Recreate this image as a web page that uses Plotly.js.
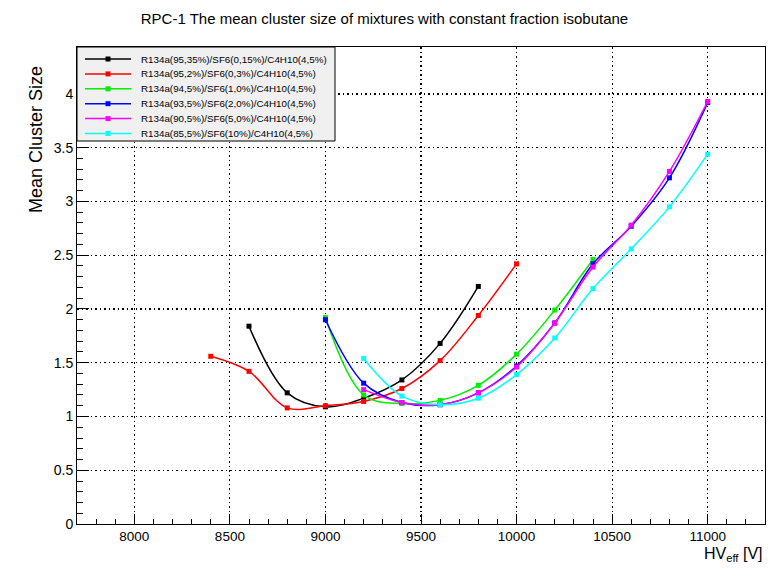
<!DOCTYPE html>
<html><head><meta charset="utf-8">
<script src="https://cdn.plot.ly/plotly-3.0.1.min.js"></script>
<style>body{margin:0;background:#fff}#chart{width:769px;height:574px}</style>
</head><body><div id="chart"></div>
<script>
const seriesNames = [
  "R134a(95,35%)/SF6(0,15%)/C4H10(4,5%)",
  "R134a(95,2%)/SF6(0,3%)/C4H10(4,5%)",
  "R134a(94,5%)/SF6(1,0%)/C4H10(4,5%)",
  "R134a(93,5%)/SF6(2,0%)/C4H10(4,5%)",
  "R134a(90,5%)/SF6(5,0%)/C4H10(4,5%)",
  "R134a(85,5%)/SF6(10%)/C4H10(4,5%)"
];
const seriesColors = ["#000000","#ff0000","#00ee00","#0000ff","#ff00ff","#00ffff"];

const xTickVals = [8000, 8500, 9000, 9500, 10000, 10500, 11000];
const xTickText = ["8000", "8500", "9000", "9500", "10000", "10500", "11000"];
const yTickVals = [0, 0.5, 1, 1.5, 2, 2.5, 3, 3.5, 4];
const yTickText = ["0", "0.5", "1", "1.5", "2", "2.5", "3", "3.5", "4"];

const hvBlack = [8600, 8800, 9000, 9200, 9400, 9600, 9800];
const mcsBlack = [1.84, 1.22, 1.09, 1.17, 1.34, 1.68, 2.21];

const hvRed = [8400, 8600, 8800, 9000, 9200, 9400, 9600, 9800, 10000];
const mcsRed = [1.56, 1.42, 1.08, 1.10, 1.14, 1.26, 1.52, 1.94, 2.42];

const hvGreen = [9000, 9200, 9400, 9600, 9800, 10000, 10200, 10400];
const mcsGreen = [1.92, 1.20, 1.12, 1.15, 1.29, 1.58, 1.99, 2.46];

const hvBlue = [9000, 9200, 9400, 9600, 9800, 10000, 10200, 10400, 10600, 10800, 11000];
const mcsBlue = [1.90, 1.31, 1.13, 1.11, 1.22, 1.47, 1.87, 2.42, 2.77, 3.22, 3.92];

const hvMagenta = [9200, 9400, 9600, 9800, 10000, 10200, 10400, 10600, 10800, 11000];
const mcsMagenta = [1.25, 1.13, 1.11, 1.22, 1.46, 1.87, 2.39, 2.78, 3.28, 3.93];

const hvCyan = [9200, 9400, 9600, 9800, 10000, 10200, 10400, 10600, 10800, 11000];
const mcsCyan = [1.54, 1.19, 1.11, 1.17, 1.39, 1.73, 2.19, 2.56, 2.95, 3.44];

const xs = [hvBlack, hvRed, hvGreen, hvBlue, hvMagenta, hvCyan];
const ys = [mcsBlack, mcsRed, mcsGreen, mcsBlue, mcsMagenta, mcsCyan];

const traces = xs.map((x, i) => ({
  x: x, y: ys[i], name: seriesNames[i], type: 'scatter', mode: 'lines+markers',
  showlegend: false,
  line: {color: seriesColors[i], width: 1.5, shape: 'spline', smoothing: 1},
  marker: {color: seriesColors[i], symbol: 'square', size: 5}
}));

const font = "Liberation Sans, Arial, sans-serif";

// Legend box (ROOT style) drawn in paper coordinates
const plotTop = 47, plotBottom = 524, plotLeft = 77, plotRight = 765;
const pw = plotRight - plotLeft, ph = plotBottom - plotTop;
const px2x = p => (p - plotLeft) / pw;
const px2y = p => (plotBottom - p) / ph;
const shapes = [{type: 'rect', xref: 'paper', yref: 'paper', x0: 0, x1: px2x(335), y0: px2y(141), y1: 1,
                 fillcolor: '#f0f0f0', line: {color: '#000', width: 1}, layer: 'above'}];
const annotations = [];
seriesNames.forEach((nm, i) => {
  const yc = px2y(59 + i * 14.9);
  shapes.push({type: 'line', xref: 'paper', yref: 'paper', x0: px2x(85), x1: px2x(131), y0: yc, y1: yc,
               line: {color: seriesColors[i], width: 1.5}, layer: 'above'});
  shapes.push({type: 'rect', xref: 'paper', yref: 'paper', xsizemode: 'pixel', ysizemode: 'pixel',
               xanchor: px2x(108), yanchor: yc, x0: -2.5, x1: 2.5, y0: -2.5, y1: 2.5,
               fillcolor: seriesColors[i], line: {width: 0}, layer: 'above'});
  annotations.push({text: nm, xref: 'paper', yref: 'paper', x: px2x(139), y: yc, xanchor: 'left', yanchor: 'middle',
                    showarrow: false, font: {size: 9.8, family: font, color: '#000'}});
});
annotations.push({text: 'Mean Cluster Size', xref: 'paper', yref: 'paper', x: px2x(36), y: px2y(140),
  xanchor: 'center', yanchor: 'middle', textangle: -90, showarrow: false, font: {size: 18, family: font}});
annotations.push({text: 'HV<sub>eff</sub> [V]', xref: 'paper', yref: 'paper', x: 1, y: 0, xanchor: 'right', yanchor: 'top',
  showarrow: false, font: {size: 16, family: font}, yshift: -19});

const layout = {
  width: 769, height: 574,
  margin: {l: plotLeft, r: 769 - plotRight, t: plotTop, b: 574 - plotBottom},
  paper_bgcolor: '#fff', plot_bgcolor: '#fff',
  font: {family: font, color: '#000', size: 13},
  title: {text: 'RPC-1 The mean cluster size of mixtures with constant fraction isobutane',
          x: 0.5, xanchor: 'center', y: 0.968, yanchor: 'middle', font: {size: 15, family: font}},
  showlegend: false,
  xaxis: {range: [7700, 11300], tickvals: xTickVals, ticktext: xTickText,
          ticks: 'inside', ticklen: 10, tickcolor: '#000', showline: true, linecolor: '#000', linewidth: 1,
          mirror: true, showgrid: true, gridcolor: '#000', griddash: '1.5px,3px', gridwidth: 1.2,
          zeroline: false, tickfont: {size: 13.5, family: font},
          minor: {dtick: 100, tick0: 0, ticks: 'inside', ticklen: 5, tickcolor: '#000', showgrid: false}},
  yaxis: {range: [0, 4.437], tickvals: yTickVals, ticktext: yTickText,
          ticks: 'inside', ticklen: 12, tickcolor: '#000', showline: true, linecolor: '#000', linewidth: 1,
          mirror: true, showgrid: true, gridcolor: '#000', griddash: '1.5px,3px', gridwidth: 1.2,
          zeroline: false, tickfont: {size: 14, family: font},
          minor: {dtick: 0.1, tick0: 0, ticks: 'inside', ticklen: 6, tickcolor: '#000', showgrid: false}},
  shapes: shapes,
  annotations: annotations
};
Plotly.newPlot('chart', traces, layout, {displayModeBar: false, staticPlot: true});
</script></body></html>
